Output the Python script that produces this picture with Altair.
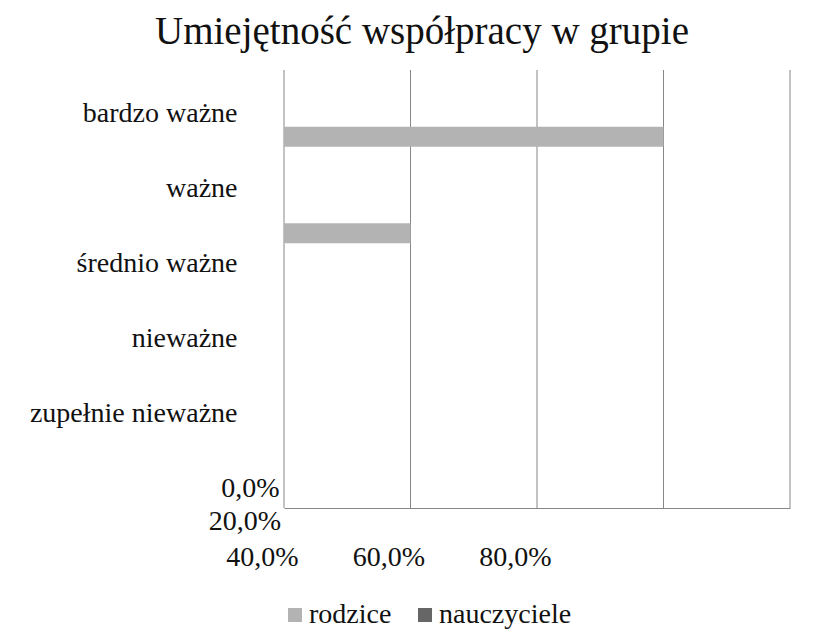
import altair as alt
import pandas as pd

# ---- data ----
categories = ["bardzo ważne", "ważne", "średnio ważne", "nieważne", "zupełnie nieważne"]
series = ["rodzice", "nauczyciele"]
rodzice = [0.60, 0.20, 0.0, 0.0, 0.0]
nauczyciele = [0.0, 0.0, 0.0, 0.0, 0.0]
x_ticks = [0.0, 0.2, 0.4, 0.6, 0.8]
colors = ["#b3b3b3", "#666666"]
title_text = "Umiejętność współpracy w grupie"

rows = []
for c, r, n in zip(categories, rodzice, nauczyciele):
    rows.append({"kategoria": c, "seria": "rodzice", "wartosc": r})
    rows.append({"kategoria": c, "seria": "nauczyciele", "wartosc": n})
df = pd.DataFrame(rows)
ticks_df = pd.DataFrame({"wartosc": x_ticks})

FONT = "Liberation Serif"
GRID = "#878787"
TEXT = "#111111"

x_axis = alt.Axis(
    values=x_ticks, title=None, grid=False,
    domainColor=GRID, domainWidth=1, ticks=False, tickSize=0,
    labelExpr="replace(format(datum.value, '.1%'), '.', ',')",
    labelFont=FONT, labelFontSize=28, labelColor=TEXT,
    labelFlush=False, labelOverlap=False, labelBaseline="alphabetic",
    labelAlign={"condition": {"test": "datum.value < 0.3", "value": "right"}, "value": "center"},
    labelOffset={"condition": [{"test": "datum.value < 0.1", "value": -5},
                               {"test": "datum.value < 0.3", "value": -130}],
                 "value": -275},
    labelPadding={"condition": [{"test": "datum.value < 0.1", "value": -12},
                                {"test": "datum.value < 0.3", "value": 21}],
                  "value": 57},
)
x_enc = alt.X("wartosc:Q", scale=alt.Scale(domain=[0, 0.8], nice=False, zero=True), axis=x_axis)

legend = alt.Legend(
    title=None, orient="none", legendX=-3, legendY=531, direction="horizontal",
    symbolType="square", symbolSize=196, symbolStrokeWidth=0,
    labelFont=FONT, labelFontSize=28, labelColor=TEXT, labelOffset=0, columnPadding=19,
)
color_enc = alt.Color("seria:N", scale=alt.Scale(domain=series, range=colors), legend=legend)

base = alt.Chart(df)

# vertical gridlines at the x ticks, full plot height
grid_layer = alt.Chart(ticks_df).mark_rule(color=GRID, strokeWidth=1).encode(x=x_enc)

labels_layer = base.transform_filter(alt.datum.seria == "nauczyciele").mark_bar().encode(
    x=x_enc,
    y=alt.Y("kategoria:N", sort=categories,
            scale=alt.Scale(range=[14.5, 389.5], paddingInner=0, paddingOuter=0),
            axis=alt.Axis(title=None, domain=False, ticks=False, tickSize=0, grid=False,
                          labelFont=FONT, labelFontSize=28, labelColor=TEXT, labelLimit=0,
                          labelPadding=47, labelBaseline="alphabetic", labelAlign="right")),
    color=color_enc,
)

bars_layer = base.transform_filter(alt.datum.seria == "rodzice").mark_bar().encode(
    x=x_enc,
    y=alt.Y("kategoria:N", sort=categories,
            scale=alt.Scale(range=[56.7, 462.7], paddingInner=0.7927, paddingOuter=0),
            axis=None),
    color=color_enc,
)

chart = alt.layer(grid_layer, labels_layer, bars_layer).resolve_scale(y="independent").properties(
    width=506, height=438,
    title=alt.TitleParams(text=title_text, font=FONT, fontSize=39, fontWeight="normal",
                          color=TEXT, anchor="middle", frame="group", dx=-115, dy=41,
                          offset=28, baseline="alphabetic"),
    autosize=alt.AutoSizeParams(type="none"),
    padding={"left": 276, "top": 62, "right": 20, "bottom": 121},
).configure_view(stroke=None)

chart.save("out.html", embed_options={"renderer": "svg", "actions": False})
